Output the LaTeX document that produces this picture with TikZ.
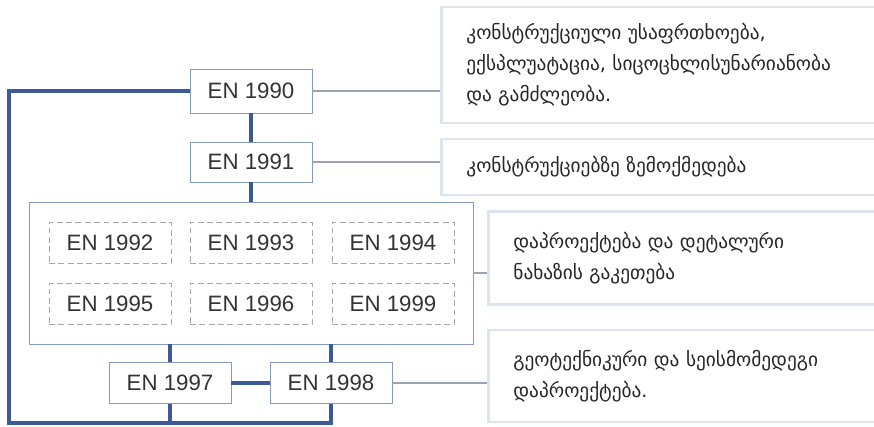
\documentclass[tikz,border=0pt]{standalone}
\usepackage{fontspec}
\setmainfont{Liberation Sans}
\newfontfamily\geofont{DejaVu Sans}
\usetikzlibrary{positioning}

\definecolor{busblue}{HTML}{3C5A98}
\definecolor{boxblue}{HTML}{8499C4}
\definecolor{dashgray}{HTML}{A3A8B0}
\definecolor{noteblue}{HTML}{DCE4F0}
\definecolor{linkgray}{HTML}{9AA4B6}
\definecolor{textgray}{HTML}{333333}

\tikzset{
  enbox/.style={draw=boxblue, line width=0.8pt, minimum width=3.66cm, minimum height=1.24cm,
    inner sep=0pt, text=textgray, font=\fontsize{19}{22}\selectfont},
  partbox/.style={enbox, draw=dashgray, dash pattern=on 5pt off 3pt},
  notebox/.style={draw=noteblue, line width=2.4pt, anchor=west, align=left,
    inner xsep=0.75cm, inner ysep=0pt, text=black!85, font=\geofont\fontsize{16.5}{26.5}\selectfont},
  bus/.style={draw=busblue, line width=2.6pt},
  link/.style={draw=linkgray, line width=1pt}
}

\begin{document}
\begin{tikzpicture}[x=0.03cm, y=-0.03cm]

\useasboundingbox (0,0) rectangle (874,427);
\clip (0,0) rectangle (874,427);

% eurocodes
\node[enbox, minimum height=1.32cm] (en1990) at (251,91) {EN 1990};
\node[enbox, minimum height=1.2cm] (en1991) at (251,162) {EN 1991};

\node[draw=boxblue, line width=0.8pt, minimum width=13.32cm, minimum height=4.26cm] (parts) at (251,273) {};
\node[partbox] (en1992) at (110,243) {EN 1992};
\node[partbox] (en1993) at (251,243) {EN 1993};
\node[partbox] (en1994) at (393,243) {EN 1994};
\node[partbox] (en1995) at (110,304) {EN 1995};
\node[partbox] (en1996) at (251,304) {EN 1996};
\node[partbox] (en1999) at (393,304) {EN 1999};

\node[enbox] (en1997) at (170,383) {EN 1997};
\node[enbox] (en1998) at (331,383) {EN 1998};

% notes on the right
\node[notebox, text width=12.3cm, minimum height=3.48cm] (noteA) at (440,65)
  {კონსტრუქციული უსაფრთხოება,\\ექსპლუატაცია, სიცოცხლისუნარიანობა\\და გამძლეობა.};
\node[notebox, text width=12.3cm, minimum height=1.68cm] (noteB) at (440,167)
  {კონსტრუქციებზე ზემოქმედება};
\node[notebox, text width=10.86cm, minimum height=2.79cm] (noteC) at (487,258)
  {დაპროექტება და დეტალური\\ნახაზის გაკეთება};
\node[notebox, text width=10.86cm, minimum height=2.76cm] (noteD) at (487,376)
  {გეოტექნიკური და სეისმომედეგი\\დაპროექტება.};

\coordinate (corner) at (9,423);

% links
\draw[bus] (en1990) -- (en1991);
\draw[bus] (en1991) -- (parts.north);
\draw[bus] (parts.south -| en1997) -- (en1997.north);
\draw[bus] (parts.south -| en1998) -- (en1998.north);
\draw[bus] (en1997) -- (en1998);
\draw[bus] (en1990.west) -| (corner) -| (en1998.south);
\draw[bus] (en1997.south) -- (en1997.south |- corner);

\draw[link] (en1990.east) -- (en1990.east -| noteA.west);
\draw[link] (en1991.east) -- (en1991.east -| noteB.west);
\draw[link] (parts.east) -- (parts.east -| noteC.west);
\draw[link] (en1998.east) -- (en1998.east -| noteD.west);

\end{tikzpicture}
\end{document}
